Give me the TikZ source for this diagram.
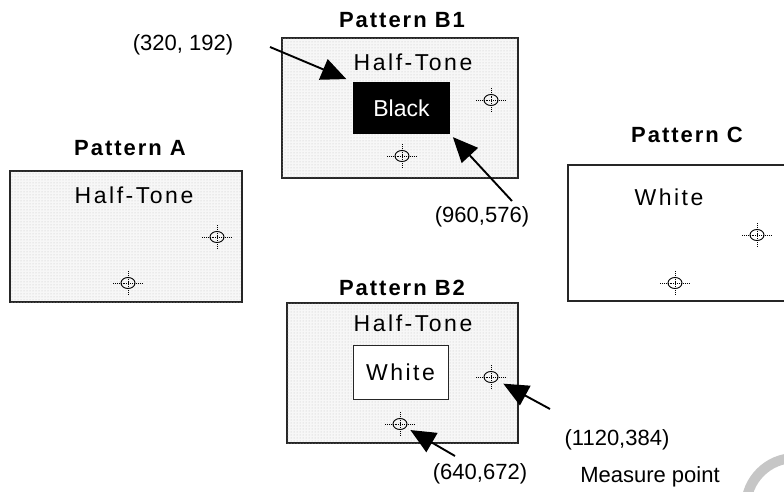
\documentclass[tikz,border=0pt]{standalone}
\usepackage{fontspec}
\setmainfont{Liberation Sans}
\newfontfamily\spacedfont[LetterSpace=11]{Liberation Sans}
\newfontfamily\titlefont[LetterSpace=9]{Liberation Sans}
\usetikzlibrary{arrows.meta,patterns}
\tikzset{
  halftone/.style={draw=black!85, line width=1.3pt, fill=gray!6,
    postaction={pattern=dots, pattern color=gray!50}},
  plainbox/.style={draw=black!85, line width=1.3pt, fill=white},
  title/.style={font={\titlefont\bfseries\fontsize{22}{25}\selectfont}},
  inner/.style={font={\spacedfont\fontsize{23}{27}\selectfont}},
  lbl/.style={font={\fontsize{22}{26}\selectfont}, inner sep=0pt},
  pointer/.style={-{Triangle[length=25pt,width=22pt]}, line width=1.9pt},
  mpt/.pic={
    \draw[line width=0.9pt] (0,0) ellipse [x radius=7, y radius=5.5];
    \draw[densely dotted, line width=0.9pt] (-15,0) -- (15,0) (0,-12) -- (0,12);
  }
}
\begin{document}
\begin{tikzpicture}[x=1pt, y=-1pt]
\useasboundingbox (0,0) rectangle (784,492);
\fill[white] (0,0) rectangle (784,492);

% watermark arc
\draw[gray!45, line width=10pt] (795,507) ++(180:49) arc[start angle=180, end angle=300, radius=49];

% Pattern A
\node[title] (tA) at (130,148) {Pattern A};
\node[halftone, minimum width=232pt, minimum height=131pt, inner sep=0pt] (boxA) at (126,236.5) {};
\node[inner] (htA) at (134,195) {Half-Tone};
\coordinate (mA1) at (217,237);
\coordinate (mA2) at (128,283);
\pic at (mA1) {mpt};
\pic at (mA2) {mpt};

% Pattern B1
\node[title] (tB1) at (402,20) {Pattern B1};
\node[halftone, minimum width=236pt, minimum height=140pt, inner sep=0pt] (boxB1) at (400,108) {};
\node[inner] (htB1) at (413,62) {Half-Tone};
\node[fill=black, minimum width=97pt, minimum height=52pt, inner sep=0pt,
      text=white, font={\fontsize{23}{26}\selectfont}] (black) at (401.5,108) {Black};
\coordinate (mB1a) at (491,100);
\coordinate (mB1b) at (402,156);
\pic at (mB1a) {mpt};
\pic at (mB1b) {mpt};

% Pattern C
\node[title] (tC) at (687,135) {Pattern C};
\node[plainbox, minimum width=220pt, minimum height=136pt, inner sep=0pt] (boxC) at (678,233) {};
\node[inner] (wC) at (669,197) {White};
\coordinate (mC1) at (757,235);
\coordinate (mC2) at (675,283);
\pic at (mC1) {mpt};
\pic at (mC2) {mpt};

% Pattern B2
\node[title] (tB2) at (402,288) {Pattern B2};
\node[halftone, minimum width=231pt, minimum height=140pt, inner sep=0pt] (boxB2) at (402.5,373) {};
\node[inner] (htB2) at (413,323) {Half-Tone};
\node[draw=black!85, line width=1pt, fill=white, minimum width=95pt, minimum height=54pt,
      inner sep=0pt, inner] (white) at (400.5,372) {White};
\coordinate (mB2a) at (491,377);
\coordinate (mB2b) at (400,424);
\pic at (mB2a) {mpt};
\pic at (mB2b) {mpt};

% labels
\node[lbl] (l1) at (183,45) {(320, 192)};
\node[lbl] (l2) at (482,217) {(960,576)};
\node[lbl] (l3) at (617,440) {(1120,384)};
\node[lbl] (l4) at (480,474) {(640,672)};
\node[lbl] (l5) at (650,477) {Measure point};

\coordinate (t1) at (270,47);
\coordinate (t2) at (512,201);
\coordinate (t3) at (550,409);
\coordinate (t4) at (455,456);

\draw[pointer, shorten >=7pt] (t1) -- (black.north west);
\draw[pointer, shorten >=4pt] (t2) -- (black.south east);
\draw[pointer, shorten >=14pt] (t3) -- (mB2a);
\draw[pointer, shorten >=12pt] (t4) -- (mB2b);
\end{tikzpicture}
\end{document}
